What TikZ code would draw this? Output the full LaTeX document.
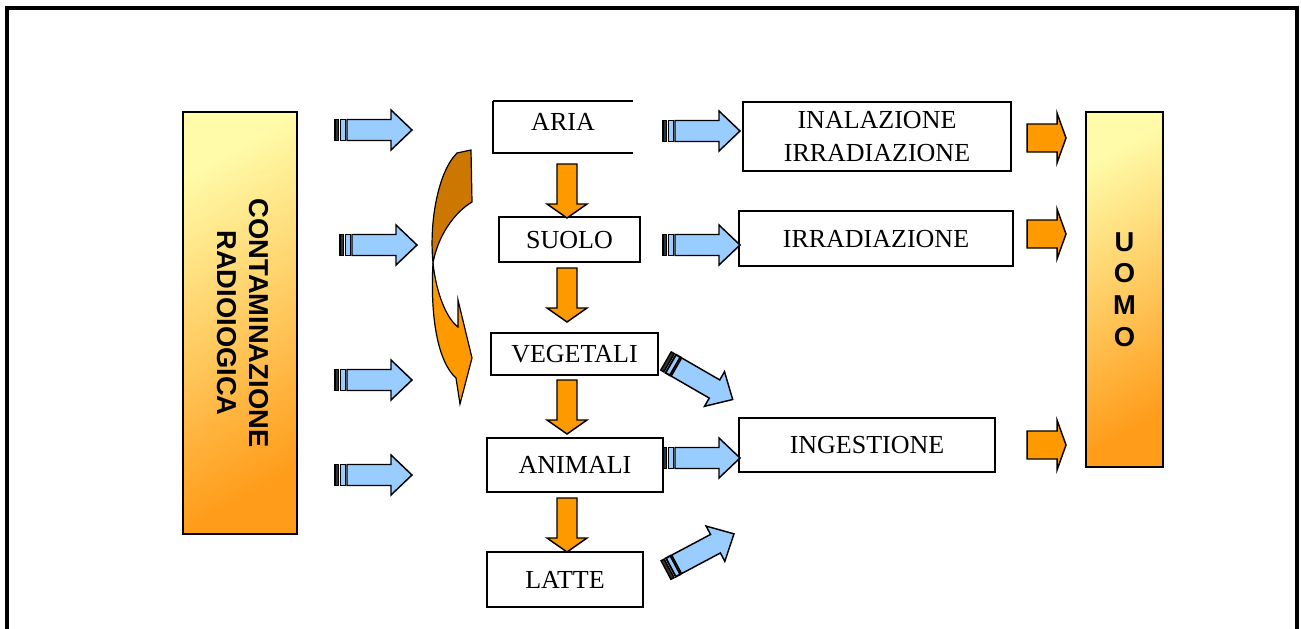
\documentclass[tikz,border=0pt]{standalone}
\usepackage{fontspec}
\setmainfont{Liberation Serif}
\setsansfont{Liberation Sans}
\usetikzlibrary{calc}
\definecolor{blu}{HTML}{99CCFF}
\definecolor{ora}{HTML}{FF9900}
\definecolor{dora}{HTML}{CC7700}
\definecolor{gA}{HTML}{FFFBA8}
\definecolor{gB}{HTML}{FF9C1A}
\tikzset{
  wh/.style 2 args={minimum width=#1*0.75pt, minimum height=#2*0.75pt},
  tbox/.style={rectangle, inner sep=0pt, outer sep=0pt, align=center, fill=white,
    font=\fontsize{19.5}{24.75}\selectfont},
  caps/.style={text height=12.9pt, text depth=0pt},
  thinb/.style={draw, line width=0.8pt},
  thickb/.style={draw, line width=1.9pt},
  gbox/.style={rectangle, draw, line width=1.1pt, inner sep=0pt, outer sep=0pt,
    top color=gA, bottom color=gB, shading angle=30, align=center,
    font=\sffamily\bfseries\fontsize{20.5}{23.8}\selectfont},
  sarr/.style={draw, fill=blu, line width=1.1pt, line join=miter},
  oarr/.style={draw, fill=ora, line width=1.1pt, line join=miter},
  pics/sarrow/.style={code={
    \draw[sarr, fill=black!80] (0,-10.5) rectangle (3.5,10.5);
    \draw[sarr, line width=1.4pt] (5.5,-10.5) rectangle (10.5,10.5);
    \draw[sarr] (12,-10.5) -- (56,-10.5) -- (56,-20) -- (77,0) -- (56,20) -- (56,10.5) -- (12,10.5) -- cycle;
  }},
  pics/odown/.style={code={
    \draw[oarr] (-10,0) -- (10,0) -- (10,40) -- (20,40) -- (0,54) -- (-20,40) -- (-10,40) -- cycle;
  }},
  pics/oright/.style={code={
    \draw[oarr] (0,-14) -- (30,-14) -- (30,-25) -- (39,0) -- (30,25) -- (30,14) -- (0,14) -- cycle;
  }},
}
\begin{document}
\begin{tikzpicture}[x=0.75pt, y=-0.75pt]
\useasboundingbox (0,0) rectangle (1301,628);
% frame
\draw[line width=2.3pt] (7,640) -- (7,8) -- (1297,8) -- (1297,640);

% gradient boxes
\node[gbox, wh={114}{422}] (contam) at (240,323)
  {\rotatebox{-90}{\begin{tabular}{@{}c@{}}CONTAMINAZIONE\\RADIOIOGICA\end{tabular}}};
\node[gbox, wh={77}{355}] (uomo) at (1124.5,289.5) {U\\O\\M\\O};

% central boxes
\node[tbox, caps, text depth=7.5pt, wh={140}{52}] (aria) at (563,127) {ARIA};
\draw[line width=0.9pt] (aria.north east) -- (aria.north west);
\draw[line width=1.9pt] (aria.north west) -- (aria.south west) -- (aria.south east);
\node[tbox, caps, thinb, wh={141}{45}] (suolo) at (569.5,239.5) {SUOLO};
\draw[line width=2pt] (suolo.north east) -- (suolo.south east) -- (suolo.south west);
\node[tbox, caps, draw, line width=1.6pt, wh={167}{42}] (veg) at (574.5,354) {VEGETALI};
\node[tbox, caps, thinb, wh={176}{54}] (anim) at (575,465) {ANIMALI};
\node[tbox, caps, thinb, wh={156}{55}] (latte) at (565,579.5) {LATTE};

% right boxes
\node[tbox, draw, line width=1.7pt, wh={268}{69}] (inal) at (877,136.5) {INALAZIONE\\IRRADIAZIONE};
\node[tbox, caps, thinb, wh={274}{55}] (irr) at (876,238.5) {IRRADIAZIONE};
\node[tbox, caps, draw, line width=1pt, wh={256}{54}] (ing) at (867,445) {INGESTIONE};

% left blue arrows
\pic at (335,130) {sarrow};
\pic at (340,245) {sarrow};
\pic at (335,380) {sarrow};
\pic at (335,475) {sarrow};

% right blue arrows
\pic at (663,131) {sarrow};
\pic at (663,245) {sarrow};
\pic at (663,458) {sarrow};
\pic[rotate=-30] at (666,361) {sarrow};
\pic[rotate=28] at (666,570) {sarrow};

% orange down arrows
\pic at (567,164) {odown};
\pic at (567,268) {odown};
\pic at (567,380) {odown};
\pic at (567,498) {odown};

% orange right arrows
\pic at (1027,138) {oright};
\pic at (1027,234) {oright};
\pic at (1027,445) {oright};

% curved arrow
\draw[oarr, fill=dora, line width=0.9pt] (471,150) -- (472,202)
  .. controls (455,212) and (438,235) .. (433,263)
  .. controls (429,222) and (438,172) .. (457,153) -- cycle;
\draw[oarr, line width=0.9pt] (433,263)
  .. controls (436,292) and (446,318) .. (458,327)
  -- (458,300) -- (472,358) -- (460,404) -- (456,378)
  .. controls (438,362) and (430,318) .. (433,263) -- cycle;
\end{tikzpicture}
\end{document}
